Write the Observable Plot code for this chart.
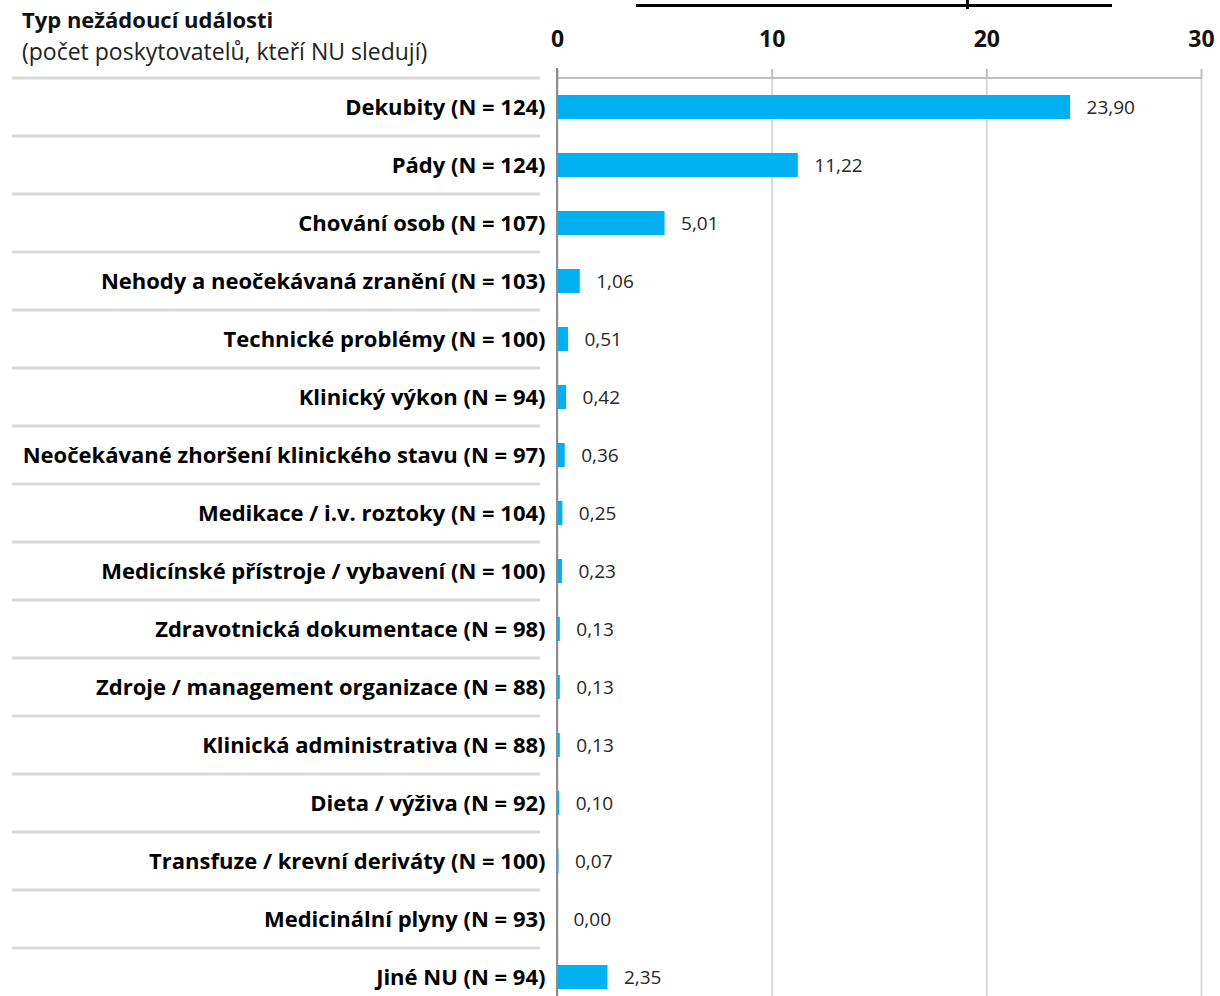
<!DOCTYPE html>
<html><head><meta charset="utf-8">
<script src="https://cdn.jsdelivr.net/npm/d3@7"></script>
<script src="https://cdn.jsdelivr.net/npm/@observablehq/plot@0.6"></script>
<style>
body{margin:0;background:#fff;font-family:"Open Sans",sans-serif;}
#wrap{position:relative;width:1220px;height:996px;overflow:hidden;}
#h1{position:absolute;left:22px;top:4px;font-weight:bold;font-size:22px;color:#111;}
#h2{position:absolute;left:22px;top:35px;font-size:23px;color:#222;}
#topline{position:absolute;left:636px;top:4px;width:476px;height:3px;background:#000;}
#toptick{position:absolute;left:966px;top:0px;width:3px;height:9px;background:#000;}
#chart{position:absolute;left:0;top:0;}
</style></head>
<body><div id="wrap">
<div id="chart"></div>
<div id="h1">Typ nežádoucí události</div>
<div id="h2">(počet poskytovatelů, kteří NU sledují)</div>
<div id="topline"></div><div id="toptick"></div>
</div>
<script>
const categories = [
  "Dekubity (N = 124)",
  "Pády (N = 124)",
  "Chování osob (N = 107)",
  "Nehody a neočekávaná zranění (N = 103)",
  "Technické problémy (N = 100)",
  "Klinický výkon (N = 94)",
  "Neočekávané zhoršení klinického stavu (N = 97)",
  "Medikace / i.v. roztoky (N = 104)",
  "Medicínské přístroje / vybavení (N = 100)",
  "Zdravotnická dokumentace (N = 98)",
  "Zdroje / management organizace (N = 88)",
  "Klinická administrativa (N = 88)",
  "Dieta / výživa (N = 92)",
  "Transfuze / krevní deriváty (N = 100)",
  "Medicinální plyny (N = 93)",
  "Jiné NU (N = 94)"
];
const values = [23.90, 11.22, 5.01, 1.06, 0.51, 0.42, 0.36, 0.25, 0.23, 0.13, 0.13, 0.13, 0.10, 0.07, 0.00, 2.35];
const xTicks = [0, 10, 20, 30];

const data = categories.map((c, i) => ({cat: c, v: values[i]}));
const fmt = v => v.toFixed(2).replace(".", ",");

const chart = Plot.plot({
  width: 1220,
  height: 996,
  marginTop: 78,
  marginLeft: 557,
  marginRight: 19,
  marginBottom: 0,
  style: {fontFamily: "'Open Sans', sans-serif", background: "transparent", overflow: "visible"},
  x: {domain: [0, 30]},
  y: {domain: categories, range: [78, 78 + 58 * 16], paddingInner: 0.59, paddingOuter: 0.295},
  marks: [
    Plot.gridX(xTicks, {stroke: "#d9d9d9", strokeOpacity: 1, strokeWidth: 2, y1: null}),
    Plot.barX(data, {y: "cat", x: "v", fill: "#00B0F0"}),
    Plot.text(data, {y: "cat", x: "v", text: d => fmt(d.v), textAnchor: "start", dx: 16, fontSize: 19, fill: "#262626"}),
    Plot.axisX(xTicks, {anchor: "top", label: null, tickSize: 10, tickPadding: 22, tickFormat: d => String(d), fontSize: 23, fontWeight: "bold", fill: "#111", stroke: "#bfbfbf", strokeWidth: 2}),
    Plot.axisY({tickSize: 0, tickPadding: 12, fontSize: 22, fontWeight: "bold", fill: "#000", label: null}),
    Plot.ruleX([0], {stroke: "#8c8c8c", strokeWidth: 2, y1: null})
  ]
});

document.getElementById("chart").appendChild(chart);

// top frame line and row separators in the left margin, positioned from the y scale
const svg = d3.select(chart);
const ys = chart.scale("y");
const xs = chart.scale("x");
svg.append("line")
  .attr("x1", xs.apply(0)).attr("x2", xs.apply(30))
  .attr("y1", 78).attr("y2", 78)
  .attr("stroke", "#bfbfbf").attr("stroke-width", 2);
const gap = (ys.step - ys.bandwidth) / 2;
categories.forEach(c => {
  const yb = ys.apply(c) - gap;
  svg.append("line")
    .attr("x1", 12).attr("x2", 540)
    .attr("y1", yb).attr("y2", yb)
    .attr("stroke", "#d9d9d9").attr("stroke-width", 3);
});
svg.append("line")
  .attr("x1", xs.apply(0)).attr("x2", xs.apply(0))
  .attr("y1", 68).attr("y2", 996)
  .attr("stroke", "#8c8c8c").attr("stroke-width", 2);
</script>
</body></html>
